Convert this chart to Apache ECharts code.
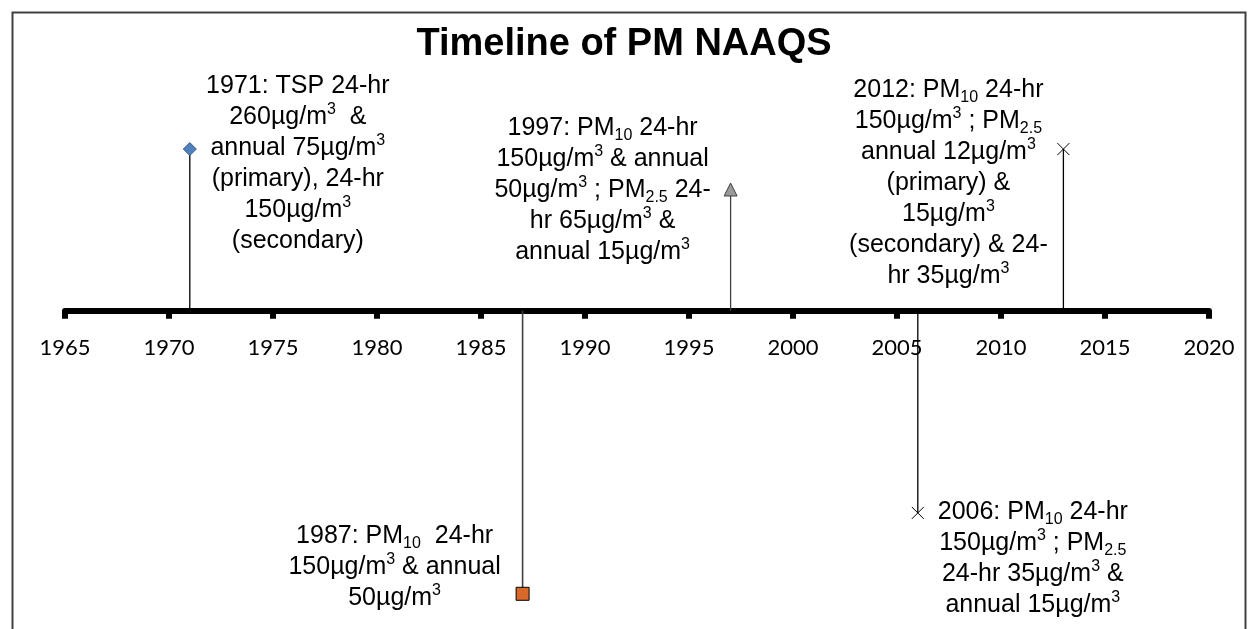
<!DOCTYPE html>
<html>
<head>
<meta charset="utf-8">
<title>Timeline of PM NAAQS</title>
<script src="https://cdn.jsdelivr.net/npm/echarts@6/dist/echarts.min.js"></script>
<style>
  html, body { margin: 0; padding: 0; background: #fff; }
  #chart { width: 1248px; height: 629px; }
</style>
</head>
<body>
<div id="chart"></div>
<script>
// timeline data (x = year, y = stem height above / below the axis)
const years = [1971, 1987, 1997, 2006, 2013]
const levels = [4, -7, 3, -5, 4]
const notes = [
  '1971: TSP 24-hr\n260µg/m{sup|3}  &\nannual 75µg/m{sup|3}\n(primary), 24-hr\n150µg/m{sup|3}\n(secondary)',
  '1987: PM{sub|10}  24-hr\n150µg/m{sup|3} & annual\n50µg/m{sup|3}',
  '1997: PM{sub|10} 24-hr\n150µg/m{sup|3} & annual\n50µg/m{sup|3} ; PM{sub|2.5} 24-\nhr 65µg/m{sup|3} &\nannual 15µg/m{sup|3}',
  '2006: PM{sub|10} 24-hr\n150µg/m{sup|3} ; PM{sub|2.5}\n24-hr 35µg/m{sup|3} &\nannual 15µg/m{sup|3}',
  '2012: PM{sub|10} 24-hr\n150µg/m{sup|3} ; PM{sub|2.5}\nannual 12µg/m{sup|3}\n(primary) &\n15µg/m{sup|3}\n(secondary) & 24-\nhr 35µg/m{sup|3}',
]
const yearMin = 1965
const yearMax = 2020
const yearStep = 5
const levelMin = -7.5
const levelMax = 6.5

// marker look, one per event
const markers = [
  { symbol: 'diamond', size: 13, color: '#4F81BD', border: '#385D8A', stem: '#000' },
  { symbol: 'rect', size: 13, color: '#D9692A', border: '#000', stem: '#404040' },
  { symbol: 'triangle', size: 13, color: '#999999', border: '#404040', stem: '#404040' },
  { symbol: 'path://M0,0L10,10M10,0L0,10', size: 12, color: 'transparent', border: '#000', stem: '#000' },
  { symbol: 'path://M0,0L10,10M10,0L0,10', size: 12, color: 'transparent', border: '#000', stem: '#000' },
]
const labelOffsets = [[108, 15], [-128, -27], [-128, 1], [115, 46], [-115, 34]]

const gridTop = 48
const gridBottom = 15
const plotHeight = 629 - gridTop - gridBottom
// lift the x axis from the grid bottom up to level 0
const axisShift = -plotHeight * (0 - levelMin) / (levelMax - levelMin)

const chart = echarts.init(document.getElementById('chart'), null, { renderer: 'canvas' })

const stems = years.map((yr, i) => ({
  type: 'line',
  data: [[yr, 0], [yr, levels[i]]],
  symbol: 'none',
  lineStyle: { color: markers[i].stem, width: i === 1 ? 1.6 : 1.3 },
  z: 1,
  silent: true,
}))

const labelFont = { fontFamily: 'Liberation Sans', color: '#000' }

const points = {
  type: 'scatter',
  z: 5,
  itemStyle: { opacity: 1 },
  data: years.map((yr, i) => ({
    value: [yr, levels[i]],
    symbol: markers[i].symbol,
    symbolSize: markers[i].size,
    itemStyle: {
      color: markers[i].color,
      borderColor: markers[i].border,
      borderWidth: 1,
      opacity: 1,
    },
    label: {
      show: true,
      position: 'inside',
      offset: labelOffsets[i],
      color: '#000',
      formatter: notes[i],
    },
  })),
  label: {
    show: true,
    ...labelFont,
    fontSize: 25,
    lineHeight: 31,
    align: 'center',
    verticalAlign: 'middle',
    rich: {
      sub: { ...labelFont, fontSize: 16, lineHeight: 18, verticalAlign: 'bottom' },
      sup: { ...labelFont, fontSize: 16, lineHeight: 21, verticalAlign: 'top' },
    },
  },
}

chart.setOption({
  animation: false,
  backgroundColor: '#fff',
  title: {
    text: 'Timeline of PM NAAQS',
    left: 619,
    textAlign: 'center',
    top: 21,
    textStyle: { fontFamily: 'Liberation Sans', fontWeight: 'bold', fontSize: 38, color: '#000' },
  },
  graphic: [
    {
      type: 'rect',
      left: 10,
      top: 10,
      shape: { width: 1233, height: 700 },
      style: { fill: 'none', stroke: '#404040', lineWidth: 2 },
      silent: true,
    },
  ],
  grid: {
    left: 65, right: 39, top: gridTop, bottom: gridBottom,
    containLabel: false, outerBoundsMode: 'none',
  },
  xAxis: {
    type: 'value',
    min: yearMin,
    max: yearMax,
    interval: yearStep,
    position: 'bottom',
    offset: axisShift,
    axisLine: { onZero: false, lineStyle: { color: '#000', width: 6 } },
    axisTick: { show: true, length: 8, lineStyle: { color: '#000', width: 6 } },
    axisLabel: {
      margin: 26,
      fontFamily: 'Lato',
      fontSize: 22,
      color: '#000',
      formatter: (v) => String(v),
    },
    splitLine: { show: false },
  },
  yAxis: {
    type: 'value',
    min: levelMin,
    max: levelMax,
    show: false,
    splitLine: { show: false },
  },
  series: [...stems, points],
})
</script>
</body>
</html>
